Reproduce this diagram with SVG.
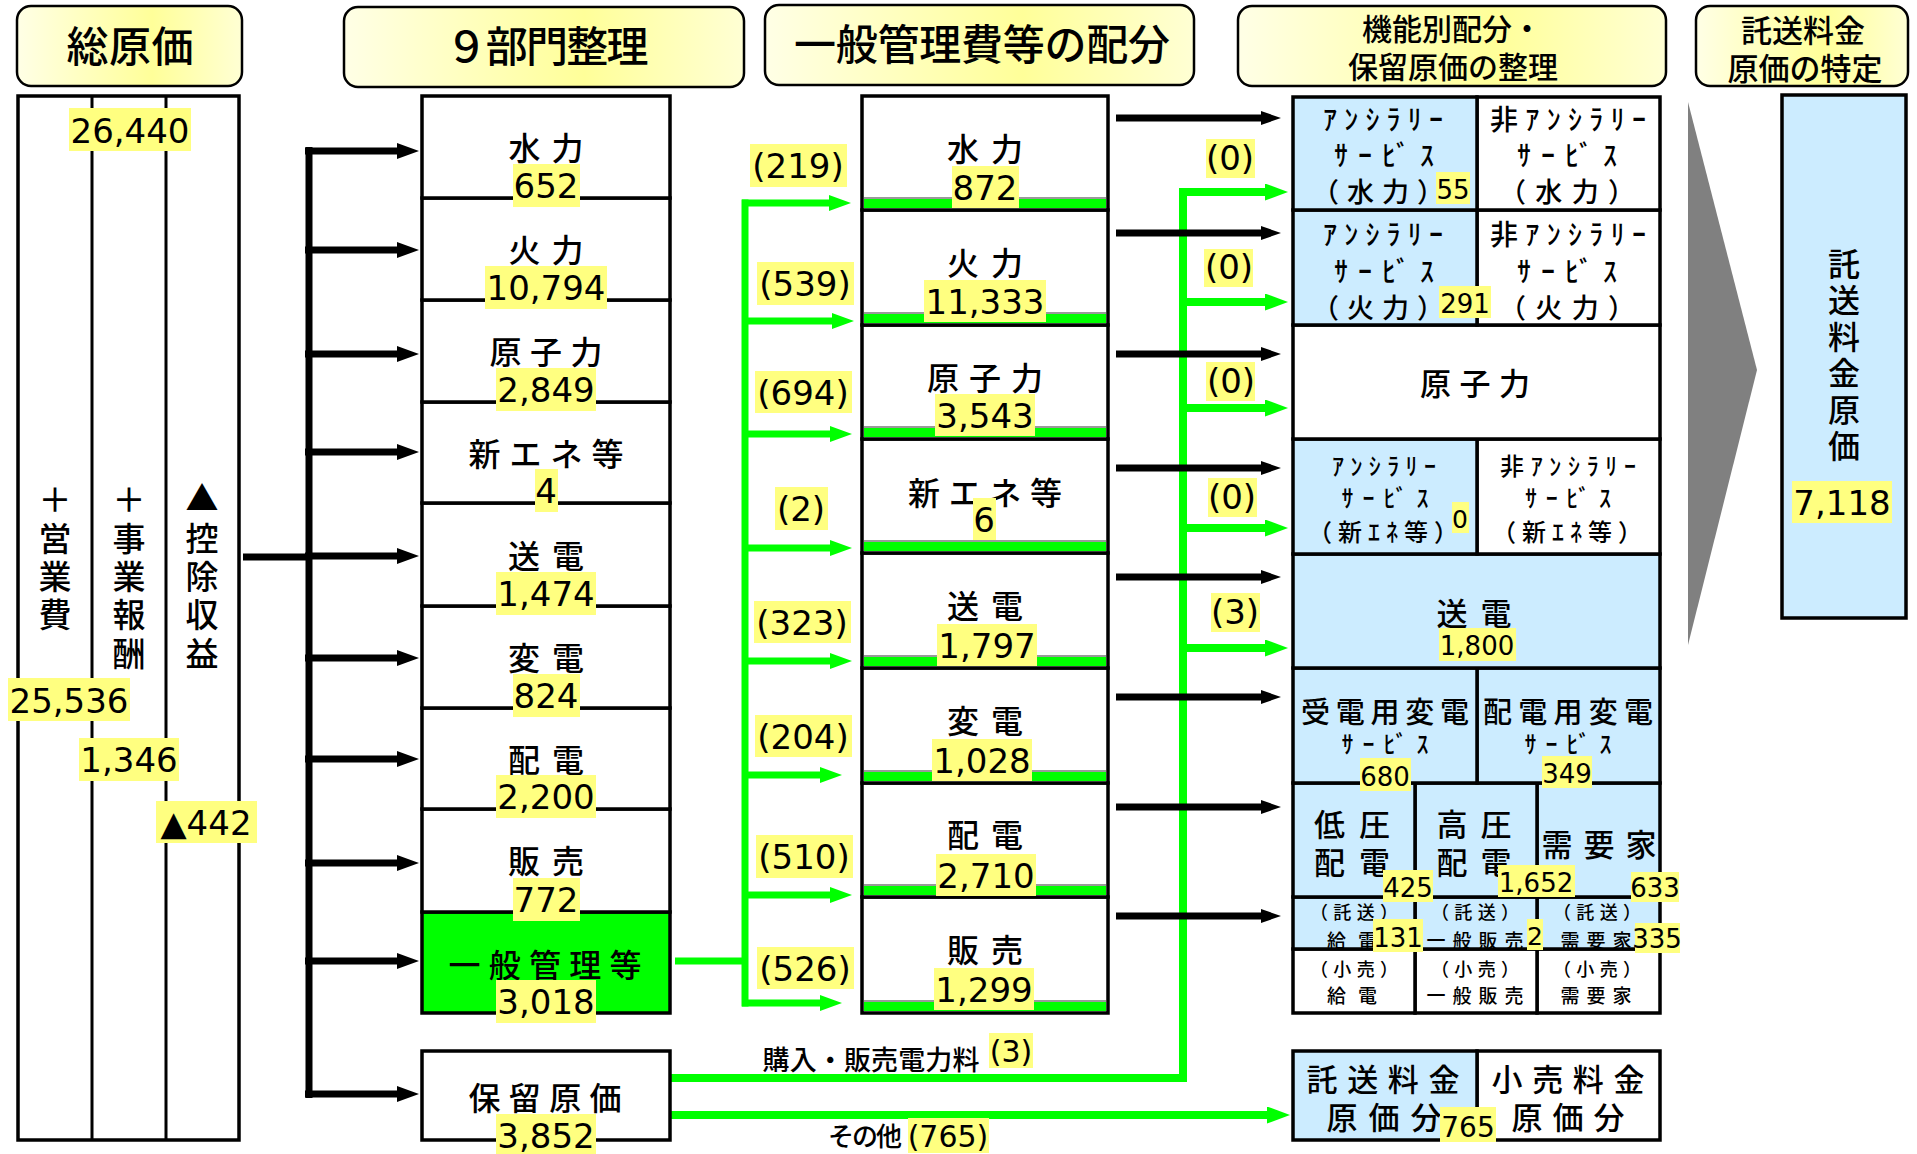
<svg xmlns="http://www.w3.org/2000/svg" width="1917" height="1154" viewBox="0 0 1917 1154">
<defs>
<linearGradient id="hg" x1="0" y1="0" x2="1" y2="0">
<stop offset="0" stop-color="#FFFFE6"/>
<stop offset="0.6" stop-color="#FFFF99"/>
<stop offset="1" stop-color="#FFFFD4"/>
</linearGradient>
<marker id="ab" markerUnits="userSpaceOnUse" markerWidth="22" markerHeight="16" refX="1" refY="8" orient="auto"><path d="M0,0L22,8L0,16z" fill="#000"/></marker>
<marker id="ab2" markerUnits="userSpaceOnUse" markerWidth="20" markerHeight="14" refX="1" refY="7" orient="auto"><path d="M0,0L20,7L0,14z" fill="#000"/></marker>
<marker id="ag" markerUnits="userSpaceOnUse" markerWidth="22" markerHeight="16" refX="1" refY="8" orient="auto"><path d="M0,0L22,8L0,16z" fill="#00FF00"/></marker>
<marker id="ag2" markerUnits="userSpaceOnUse" markerWidth="23" markerHeight="17" refX="1" refY="8.5" orient="auto"><path d="M0,0L23,8.5L0,17z" fill="#00FF00"/></marker>
</defs>
<style>
.c{fill:#fff;stroke:#000;stroke-width:3.5}
.b{fill:#CCECFF;stroke:#000;stroke-width:3.5}
.g{fill:#00FF00;stroke:#000;stroke-width:3.5}
.y{fill:#FFFF80}
.j{font-family:"Noto Sans CJK JP","Noto Sans CJK SC",sans-serif;text-anchor:middle;fill:#000;font-weight:500}
.n{font-family:"DejaVu Sans","Liberation Sans",sans-serif;text-anchor:middle;fill:#000}
.hd{fill:url(#hg);stroke:#000;stroke-width:2.5}
.kb{stroke:#000;stroke-width:7;fill:none}
.kg{stroke:#00FF00;stroke-width:7;fill:none}
.kg8{stroke:#00FF00;stroke-width:8;fill:none}
.gr{fill:#00FF00}
.gl{fill:#999}
.dv{stroke:#000;stroke-width:3}
</style>
<rect width="1917" height="1154" fill="#fff"/>

<g id="headers">
<g id="h-total"><rect class="hd" x="17" y="6" width="225" height="80" rx="14"/><text class="j" x="130" y="62" font-size="42" textLength="127">総原価</text></g>
<g id="h-9dept"><rect class="hd" x="344" y="7" width="400" height="80" rx="14"/><text class="j" x="547" y="62" font-size="42" textLength="203">９部門整理</text></g>
<g id="h-alloc"><rect class="hd" x="765" y="5" width="429" height="80" rx="14"/><text class="j" x="982" y="60" font-size="42" textLength="376">一般管理費等の配分</text></g>
<g id="h-func"><rect class="hd" x="1238" y="6" width="428" height="80" rx="14"/><text class="j" x="1452" y="40" font-size="30">機能別配分・</text><text class="j" x="1453" y="78" font-size="30">保留原価の整理</text></g>
<g id="h-spec"><rect class="hd" x="1696" y="6" width="212" height="80" rx="14"/><text class="j" x="1803" y="42" font-size="31">託送料金</text><text class="j" x="1805" y="80" font-size="31">原価の特定</text></g>
</g>

<g id="total-cost">
<rect x="18" y="96" width="221" height="1044" fill="#fff" stroke="#000" stroke-width="3.5"/>
<line class="dv" x1="92" y1="96" x2="92" y2="1140"/>
<line class="dv" x1="166" y1="96" x2="166" y2="1140"/>
<text class="j" font-size="33"><tspan x="55" y="512">＋</tspan><tspan x="55" y="551">営</tspan><tspan x="55" y="589">業</tspan><tspan x="55" y="627">費</tspan></text>
<text class="j" font-size="33"><tspan x="129" y="512">＋</tspan><tspan x="129" y="551">事</tspan><tspan x="129" y="589">業</tspan><tspan x="129" y="627">報</tspan><tspan x="129" y="666">酬</tspan></text>
<text class="j" font-size="33"><tspan x="202" y="510">▲</tspan><tspan x="202" y="551">控</tspan><tspan x="202" y="589">除</tspan><tspan x="202" y="627">収</tspan><tspan x="202" y="666">益</tspan></text>
<rect class="y" x="69" y="108" width="122" height="43"/><text class="n" x="130" y="143" font-size="34">26,440</text>
<rect class="y" x="8" y="678" width="122" height="43"/><text class="n" x="69" y="713" font-size="34">25,536</text>
<rect class="y" x="79" y="738" width="100" height="43"/><text class="n" x="129" y="772" font-size="34">1,346</text>
<rect class="y" x="156" y="801" width="101" height="42"/><text class="n" x="206" y="835" font-size="34">▲442</text>
</g>

<g id="connectors">
<path class="kb" d="M243,557H309" stroke-width="8"/>
<path class="kb" d="M309,147V1098" stroke-width="8"/>
<line class="kb" x1="305" y1="151" x2="398" y2="151" marker-end="url(#ab)"/>
<line class="kb" x1="305" y1="250" x2="398" y2="250" marker-end="url(#ab)"/>
<line class="kb" x1="305" y1="354" x2="398" y2="354" marker-end="url(#ab)"/>
<line class="kb" x1="305" y1="452" x2="398" y2="452" marker-end="url(#ab)"/>
<line class="kb" x1="305" y1="556" x2="398" y2="556" marker-end="url(#ab)"/>
<line class="kb" x1="305" y1="658" x2="398" y2="658" marker-end="url(#ab)"/>
<line class="kb" x1="305" y1="759" x2="398" y2="759" marker-end="url(#ab)"/>
<line class="kb" x1="305" y1="863" x2="398" y2="863" marker-end="url(#ab)"/>
<line class="kb" x1="305" y1="961" x2="398" y2="961" marker-end="url(#ab)"/>
<line class="kb" x1="305" y1="1094" x2="398" y2="1094" marker-end="url(#ab)"/>

<path class="kg" d="M675,961H745"/>
<path class="kg" d="M745,199.5V1006.5"/>
<line class="kg" x1="742" y1="203" x2="830" y2="203" marker-end="url(#ag)"/>
<line class="kg" x1="742" y1="321" x2="833" y2="321" marker-end="url(#ag)"/>
<line class="kg" x1="742" y1="434" x2="831" y2="434" marker-end="url(#ag)"/>
<line class="kg" x1="742" y1="548" x2="831" y2="548" marker-end="url(#ag)"/>
<line class="kg" x1="742" y1="661" x2="831" y2="661" marker-end="url(#ag)"/>
<line class="kg" x1="742" y1="775" x2="821" y2="775" marker-end="url(#ag)"/>
<line class="kg" x1="742" y1="895" x2="831" y2="895" marker-end="url(#ag)"/>
<line class="kg" x1="742" y1="1003" x2="821" y2="1003" marker-end="url(#ag)"/>

<path class="kg8" d="M670,1078H1183V188"/>
<line class="kg8" x1="1183" y1="192" x2="1266" y2="192" marker-end="url(#ag2)"/>
<line class="kg8" x1="1183" y1="302" x2="1266" y2="302" marker-end="url(#ag2)"/>
<line class="kg8" x1="1183" y1="408" x2="1266" y2="408" marker-end="url(#ag2)"/>
<line class="kg8" x1="1183" y1="528" x2="1266" y2="528" marker-end="url(#ag2)"/>
<line class="kg8" x1="1183" y1="648" x2="1266" y2="648" marker-end="url(#ag2)"/>
<line class="kg8" x1="670" y1="1115" x2="1268" y2="1115" marker-end="url(#ag2)"/>

<line class="kb" x1="1116" y1="118" x2="1262" y2="118" marker-end="url(#ab2)"/>
<line class="kb" x1="1116" y1="233" x2="1262" y2="233" marker-end="url(#ab2)"/>
<line class="kb" x1="1116" y1="354" x2="1262" y2="354" marker-end="url(#ab2)"/>
<line class="kb" x1="1116" y1="468" x2="1262" y2="468" marker-end="url(#ab2)"/>
<line class="kb" x1="1116" y1="577" x2="1262" y2="577" marker-end="url(#ab2)"/>
<line class="kb" x1="1116" y1="697" x2="1262" y2="697" marker-end="url(#ab2)"/>
<line class="kb" x1="1116" y1="807" x2="1262" y2="807" marker-end="url(#ab2)"/>
<line class="kb" x1="1116" y1="916" x2="1262" y2="916" marker-end="url(#ab2)"/>

<rect class="y" x="750" y="144" width="97" height="43"/><text class="n" x="798" y="178" font-size="34">(219)</text>
<rect class="y" x="757" y="262" width="97" height="43"/><text class="n" x="805" y="296" font-size="34">(539)</text>
<rect class="y" x="755" y="371" width="97" height="42"/><text class="n" x="803" y="405" font-size="34">(694)</text>
<rect class="y" x="775" y="487" width="53" height="43"/><text class="n" x="801" y="521" font-size="34">(2)</text>
<rect class="y" x="754" y="601" width="97" height="42"/><text class="n" x="802" y="635" font-size="34">(323)</text>
<rect class="y" x="755" y="715" width="97" height="42"/><text class="n" x="803" y="749" font-size="34">(204)</text>
<rect class="y" x="756" y="835" width="97" height="43"/><text class="n" x="804" y="869" font-size="34">(510)</text>
<rect class="y" x="757" y="947" width="97" height="42"/><text class="n" x="805" y="981" font-size="34">(526)</text>

<rect class="y" x="1206" y="139" width="49" height="39"/><text class="n" x="1230" y="170" font-size="34">(0)</text>
<rect class="y" x="1204" y="249" width="49" height="38"/><text class="n" x="1229" y="279" font-size="34">(0)</text>
<rect class="y" x="1206" y="362" width="49" height="39"/><text class="n" x="1231" y="393" font-size="34">(0)</text>
<rect class="y" x="1208" y="478" width="49" height="39"/><text class="n" x="1232" y="509" font-size="34">(0)</text>
<rect class="y" x="1211" y="593" width="49" height="39"/><text class="n" x="1235" y="624" font-size="34">(3)</text>

<text class="j" x="871" y="1070" font-size="27" textLength="217">購入・販売電力料</text>
<rect class="y" x="989" y="1033" width="44" height="35"/><text class="n" x="1011" y="1062" font-size="30">(3)</text>
<text class="j" x="865" y="1146" font-size="26" textLength="74">その他</text>
<rect class="y" x="908" y="1118" width="81" height="35"/><text class="n" x="948" y="1147" font-size="30">(765)</text>
</g>

<g id="dept9">
<g id="d-reserve"><rect class="c" x="422" y="1051" width="248" height="89"/><text class="j" x="545" y="1110" font-size="32" textLength="153">保留原価</text><rect class="y" x="496" y="1114" width="100" height="40"/><text class="n" x="546" y="1148" font-size="34">3,852</text></g>
<g id="d-admin"><rect class="g" x="422" y="912" width="248" height="101"/><text class="j" x="545" y="977" font-size="32" textLength="193">一般管理等</text><rect class="y" x="496" y="980" width="100" height="43"/><text class="n" x="546" y="1014" font-size="34">3,018</text></g>
<g id="d-sales"><rect class="c" x="422" y="809" width="248" height="103"/><text class="j" x="546" y="873" font-size="32" textLength="76">販売</text><rect class="y" x="513" y="878" width="67" height="43"/><text class="n" x="546" y="912" font-size="34">772</text></g>
<g id="d-dist"><rect class="c" x="422" y="708" width="248" height="101"/><text class="j" x="546" y="772" font-size="32" textLength="76">配電</text><rect class="y" x="496" y="775" width="100" height="43"/><text class="n" x="546" y="809" font-size="34">2,200</text></g>
<g id="d-sub"><rect class="c" x="422" y="606" width="248" height="102"/><text class="j" x="546" y="670" font-size="32" textLength="76">変電</text><rect class="y" x="513" y="674" width="67" height="43"/><text class="n" x="546" y="708" font-size="34">824</text></g>
<g id="d-trans"><rect class="c" x="422" y="503" width="248" height="103"/><text class="j" x="546" y="568" font-size="32" textLength="76">送電</text><rect class="y" x="496" y="572" width="100" height="43"/><text class="n" x="546" y="606" font-size="34">1,474</text></g>
<g id="d-new"><rect class="c" x="422" y="402" width="248" height="101"/><text class="j" x="546" y="466" font-size="32" textLength="155">新エネ等</text><rect class="y" x="535" y="469" width="23" height="43"/><text class="n" x="546" y="503" font-size="34">4</text></g>
<g id="d-nuc"><rect class="c" x="422" y="300" width="248" height="102"/><text class="j" x="546" y="364" font-size="32" textLength="113">原子力</text><rect class="y" x="496" y="368" width="100" height="43"/><text class="n" x="546" y="402" font-size="34">2,849</text></g>
<g id="d-therm"><rect class="c" x="422" y="198" width="248" height="102"/><text class="j" x="546" y="262" font-size="32" textLength="75">火力</text><rect class="y" x="485" y="266" width="122" height="43"/><text class="n" x="546" y="300" font-size="34">10,794</text></g>
<g id="d-hydro"><rect class="c" x="422" y="96" width="248" height="102"/><text class="j" x="546" y="160" font-size="32" textLength="75">水力</text><rect class="y" x="513" y="164" width="67" height="43"/><text class="n" x="546" y="198" font-size="34">652</text></g>
</g>

<g id="alloc">
<g id="a-sales"><rect class="c" x="862" y="897" width="246" height="116"/><rect class="gl" x="864" y="1000" width="242" height="2"/><rect class="gr" x="864" y="1002" width="242" height="9"/><text class="j" x="985" y="962" font-size="32" textLength="76">販売</text><rect class="y" x="934" y="968" width="100" height="42"/><text class="n" x="984" y="1002" font-size="34">1,299</text></g>
<g id="a-dist"><rect class="c" x="862" y="783" width="246" height="114"/><rect class="gl" x="864" y="884" width="242" height="2"/><rect class="gr" x="864" y="886" width="242" height="9"/><text class="j" x="985" y="847" font-size="32" textLength="76">配電</text><rect class="y" x="936" y="854" width="100" height="42"/><text class="n" x="986" y="888" font-size="34">2,710</text></g>
<g id="a-sub"><rect class="c" x="862" y="668" width="246" height="115"/><rect class="gl" x="864" y="770" width="242" height="2"/><rect class="gr" x="864" y="772" width="242" height="9"/><text class="j" x="985" y="733" font-size="32" textLength="76">変電</text><rect class="y" x="932" y="739" width="100" height="42"/><text class="n" x="982" y="773" font-size="34">1,028</text></g>
<g id="a-trans"><rect class="c" x="862" y="553" width="246" height="115"/><rect class="gl" x="864" y="655" width="242" height="2"/><rect class="gr" x="864" y="657" width="242" height="9"/><text class="j" x="985" y="618" font-size="32" textLength="76">送電</text><rect class="y" x="937" y="624" width="100" height="42"/><text class="n" x="987" y="658" font-size="34">1,797</text></g>
<g id="a-new"><rect class="c" x="862" y="439" width="246" height="114"/><rect class="gl" x="864" y="540" width="242" height="2"/><rect class="gr" x="864" y="542" width="242" height="9"/><text class="j" x="985" y="505" font-size="32" textLength="154">新エネ等</text><rect class="y" x="973" y="498" width="23" height="42"/><text class="n" x="984" y="532" font-size="34">6</text></g>
<g id="a-nuc"><rect class="c" x="862" y="325" width="246" height="114"/><rect class="gl" x="864" y="426" width="242" height="2"/><rect class="gr" x="864" y="428" width="242" height="9"/><text class="j" x="985" y="390" font-size="32" textLength="116">原子力</text><rect class="y" x="935" y="394" width="100" height="42"/><text class="n" x="985" y="428" font-size="34">3,543</text></g>
<g id="a-therm"><rect class="c" x="862" y="210" width="246" height="115"/><rect class="gl" x="864" y="312" width="242" height="2"/><rect class="gr" x="864" y="314" width="242" height="9"/><text class="j" x="985" y="275" font-size="32" textLength="76">火力</text><rect class="y" x="924" y="280" width="122" height="42"/><text class="n" x="985" y="314" font-size="34">11,333</text></g>
<g id="a-hydro"><rect class="c" x="862" y="96" width="246" height="114"/><rect class="gl" x="864" y="197" width="242" height="2"/><rect class="gr" x="864" y="199" width="242" height="9"/><text class="j" x="985" y="161" font-size="32" textLength="76">水力</text><rect class="y" x="952" y="166" width="67" height="42"/><text class="n" x="985" y="200" font-size="34">872</text></g>
</g>

<g id="func">
<g id="f-retail-cost"><rect class="c" x="1477" y="1051" width="183" height="89"/><text class="j" x="1568" y="1091" font-size="31" textLength="153">小売料金</text><text class="j" x="1568" y="1129" font-size="31" textLength="113">原価分</text></g>
<g id="f-wheel-cost"><rect class="b" x="1293" y="1051" width="184" height="89"/><text class="j" x="1383" y="1091" font-size="31" textLength="153">託送料金</text><text class="j" x="1384" y="1129" font-size="31" textLength="115">原価分</text><rect class="y" x="1440" y="1107" width="56" height="35"/><text class="n" x="1468" y="1137" font-size="28">765</text></g>

<g id="f-r-cust"><rect class="c" x="1537" y="949" width="123" height="64"/><text class="j" x="1597" y="976" font-size="18" textLength="88">（小売）</text><text class="j" x="1596" y="1003" font-size="19" textLength="71">需要家</text></g>
<g id="f-r-gen"><rect class="c" x="1415" y="949" width="122" height="64"/><text class="j" x="1475" y="976" font-size="18" textLength="88">（小売）</text><text class="j" x="1475" y="1003" font-size="19" textLength="97">一般販売</text></g>
<g id="f-r-disp"><rect class="c" x="1293" y="949" width="122" height="64"/><text class="j" x="1354" y="976" font-size="18" textLength="88">（小売）</text><text class="j" x="1352" y="1003" font-size="19" textLength="50">給電</text></g>

<g id="f-w-cust"><rect class="b" x="1537" y="897" width="123" height="52"/><text class="j" x="1597" y="919" font-size="18" textLength="88">（託送）</text><text class="j" x="1596" y="948" font-size="19" textLength="71">需要家</text><rect class="y" x="1635" y="923" width="45" height="30"/><text class="n" x="1657" y="948" font-size="26">335</text></g>
<g id="f-w-gen"><rect class="b" x="1415" y="897" width="122" height="52"/><text class="j" x="1475" y="919" font-size="18" textLength="88">（託送）</text><text class="j" x="1475" y="948" font-size="19" textLength="97">一般販売</text><rect class="y" x="1527" y="919" width="16" height="31"/><text class="n" x="1535" y="945" font-size="25">2</text></g>
<g id="f-w-disp"><rect class="b" x="1293" y="897" width="122" height="52"/><text class="j" x="1354" y="919" font-size="18" textLength="88">（託送）</text><text class="j" x="1352" y="948" font-size="19" textLength="50">給電</text><rect class="y" x="1373" y="919" width="50" height="33"/><text class="n" x="1398" y="947" font-size="26">131</text></g>

<g id="f-cust"><rect class="b" x="1537" y="783" width="123" height="114"/><text class="j" x="1599" y="856" font-size="31" textLength="115">需要家</text><rect class="y" x="1631" y="872" width="48" height="30"/><text class="n" x="1655" y="897" font-size="26">633</text></g>
<g id="f-hv"><rect class="b" x="1415" y="783" width="122" height="114"/><text class="j" x="1474" y="836" font-size="31" textLength="75">高圧</text><text class="j" x="1474" y="874" font-size="31" textLength="75">配電</text><rect class="y" x="1498" y="865" width="77" height="32"/><text class="n" x="1536" y="892" font-size="26">1,652</text></g>
<g id="f-lv"><rect class="b" x="1293" y="783" width="122" height="114"/><text class="j" x="1352" y="836" font-size="31" textLength="76">低圧</text><text class="j" x="1352" y="874" font-size="31" textLength="76">配電</text><rect class="y" x="1383" y="870" width="50" height="32"/><text class="n" x="1408" y="897" font-size="26">425</text></g>

<g id="f-dsub"><rect class="b" x="1477" y="668" width="183" height="115"/><text class="j" x="1568" y="723" font-size="29" textLength="170">配電用変電</text><text class="j" x="1568" y="753" font-size="24" textLength="87">ｻｰﾋﾞｽ</text><rect class="y" x="1542" y="756" width="50" height="32"/><text class="n" x="1567" y="783" font-size="26">349</text></g>
<g id="f-rsub"><rect class="b" x="1293" y="668" width="184" height="115"/><text class="j" x="1385" y="723" font-size="29" textLength="168">受電用変電</text><text class="j" x="1385" y="753" font-size="24" textLength="87">ｻｰﾋﾞｽ</text><rect class="y" x="1360" y="758" width="51" height="33"/><text class="n" x="1385" y="786" font-size="26">680</text></g>

<g id="f-trans"><rect class="b" x="1293" y="554" width="367" height="114"/><text class="j" x="1474" y="625" font-size="31" textLength="75">送電</text><rect class="y" x="1439" y="628" width="77" height="33"/><text class="n" x="1477" y="655" font-size="26">1,800</text></g>

<g id="f-new-non"><rect class="c" x="1477" y="439" width="183" height="115"/><text class="j" x="1568" y="475" font-size="24" textLength="136">非ｱﾝｼﾗﾘｰ</text><text class="j" x="1568" y="507" font-size="24" textLength="86">ｻｰﾋﾞｽ</text><text class="j" x="1567" y="541" font-size="24" textLength="150">（新ｴﾈ等）</text></g>
<g id="f-new-anc"><rect class="b" x="1293" y="439" width="184" height="115"/><text class="j" x="1384" y="475" font-size="24" textLength="104">ｱﾝｼﾗﾘｰ</text><text class="j" x="1385" y="507" font-size="24" textLength="87">ｻｰﾋﾞｽ</text><text class="j" x="1383" y="541" font-size="24" textLength="150">（新ｴﾈ等）</text><rect class="y" x="1452" y="502" width="17" height="31"/><text class="n" x="1460" y="528" font-size="25">0</text></g>

<g id="f-nuc"><rect class="c" x="1293" y="325" width="367" height="114"/><text class="j" x="1475" y="395" font-size="31" textLength="110">原子力</text></g>

<g id="f-therm-non"><rect class="c" x="1477" y="210" width="183" height="115"/><text class="j" x="1568" y="245" font-size="28" textLength="156">非ｱﾝｼﾗﾘｰ</text><text class="j" x="1567" y="282" font-size="28" textLength="100">ｻｰﾋﾞｽ</text><text class="j" x="1567" y="318" font-size="27" textLength="136">（火力）</text></g>
<g id="f-therm-anc"><rect class="b" x="1293" y="210" width="184" height="115"/><text class="j" x="1383" y="245" font-size="28" textLength="120">ｱﾝｼﾗﾘｰ</text><text class="j" x="1384" y="282" font-size="28" textLength="100">ｻｰﾋﾞｽ</text><text class="j" x="1378" y="318" font-size="27" textLength="132">（火力）</text><rect class="y" x="1439" y="286" width="52" height="32"/><text class="n" x="1465" y="313" font-size="26">291</text></g>

<g id="f-hydro-non"><rect class="c" x="1477" y="97" width="183" height="113"/><text class="j" x="1568" y="130" font-size="28" textLength="156">非ｱﾝｼﾗﾘｰ</text><text class="j" x="1567" y="166" font-size="28" textLength="100">ｻｰﾋﾞｽ</text><text class="j" x="1567" y="202" font-size="27" textLength="136">（水力）</text></g>
<g id="f-hydro-anc"><rect class="b" x="1293" y="97" width="184" height="113"/><text class="j" x="1383" y="130" font-size="28" textLength="120">ｱﾝｼﾗﾘｰ</text><text class="j" x="1384" y="166" font-size="28" textLength="100">ｻｰﾋﾞｽ</text><text class="j" x="1378" y="202" font-size="27" textLength="132">（水力）</text><rect class="y" x="1436" y="172" width="34" height="32"/><text class="n" x="1453" y="199" font-size="26">55</text></g>
</g>

<polygon id="chevron" points="1688,102 1757,370 1688,645" fill="#808080"/>

<g id="wheeling-cost">
<rect class="b" x="1782" y="95" width="124" height="523"/>
<text class="j" font-size="32"><tspan x="1844" y="276">託</tspan><tspan x="1844" y="312">送</tspan><tspan x="1844" y="349">料</tspan><tspan x="1844" y="385">金</tspan><tspan x="1844" y="422">原</tspan><tspan x="1844" y="458">価</tspan></text>
<rect class="y" x="1792" y="481" width="100" height="42"/><text class="n" x="1842" y="515" font-size="34">7,118</text>
</g>
</svg>
